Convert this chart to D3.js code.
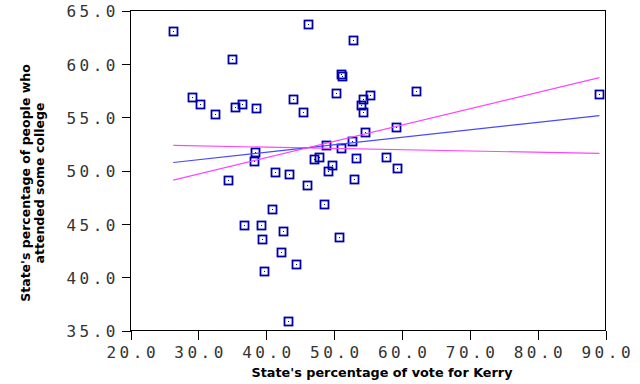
<!DOCTYPE html>
<html><head><meta charset="utf-8">
<script src="https://cdn.jsdelivr.net/npm/d3@7"></script>
<style>
html,body{margin:0;padding:0;background:#fff;}
svg{display:block;}
</style></head>
<body>
<svg id="chart" width="640" height="384"></svg>
<script>
// Data
const kerryVote = [26.3,35.0,29.1,30.3,32.4,35.4,36.5,38.5,44.0,46.2,52.8,51.0,51.2,50.3,45.4,55.3,54.3,53.9,54.3,62.1,54.6,59.1,38.4,38.2,34.4,41.3,43.4,40.9,36.8,39.3,42.5,39.4,48.8,52.6,51.0,47.8,47.1,53.2,57.6,49.7,49.1,59.3,52.9,46.0,48.5,50.7,42.2,44.4,39.7,43.2,89.1];
const someCollege = [63.1,60.5,56.9,56.2,55.3,56.0,56.2,55.9,56.7,63.7,62.2,59.06,58.9,57.3,55.5,57.1,56.7,56.1,55.5,57.5,53.65,54.1,51.7,50.9,49.1,49.9,49.7,46.4,44.9,44.9,44.3,43.6,52.4,52.75,52.1,51.3,51.1,51.2,51.3,50.5,50.0,50.2,49.2,48.6,46.9,43.8,42.4,41.2,40.6,35.85,57.2];
const fitX = [26.3, 89.1];
const fitSteep = [49.1, 58.7];
const fitBlue = [50.75, 55.15];
const fitFlat = [52.35, 51.6];
const xTicks = [20,30,40,50,60,70,80,90];
const yTicks = [35,40,45,50,55,60,65];
const xTitle = "State's percentage of vote for Kerry";
const yTitle = ["State's percentage of people who", "attended some college"];

const svg = d3.select("#chart");
const x = d3.scaleLinear().domain([20,90]).range([130.5,605.5]);
const y = d3.scaleLinear().domain([35,65]).range([330.5,10.5]);
const fmt = d3.format(".1f");
const LS = 3.5;
const tickFont = "'DejaVu Sans Mono', monospace";

// frame
svg.append("rect").attr("x",130.5).attr("y",10.5).attr("width",475).attr("height",320)
  .attr("fill","none").attr("stroke","#000").attr("stroke-width",1);

const xa = svg.append("g").attr("transform","translate(0,330.5)")
  .call(d3.axisBottom(x).tickValues(xTicks).tickFormat(fmt).tickSize(9).tickSizeOuter(0));
xa.select(".domain").remove();
xa.selectAll(".tick line").attr("stroke","#000").attr("stroke-width",1).attr("shape-rendering","crispEdges");
xa.selectAll(".tick text").attr("y",16).attr("dy","0.71em").attr("dx",LS/2)
  .style("font-family",tickFont).style("font-size","16px")
  .style("letter-spacing",LS+"px").attr("fill","#333");

const ya = svg.append("g").attr("transform","translate(130.5,0)")
  .call(d3.axisLeft(y).tickValues(yTicks).tickFormat(fmt).tickSize(9).tickSizeOuter(0));
ya.select(".domain").remove();
ya.selectAll(".tick line").attr("stroke","#000").attr("stroke-width",1).attr("shape-rendering","crispEdges");
ya.selectAll(".tick text").attr("x",-15+LS).attr("dy","0.4em")
  .style("font-family",tickFont).style("font-size","16px")
  .style("letter-spacing",LS+"px").attr("fill","#333");

// points
const pts = svg.append("g");
kerryVote.forEach((v,i)=>{
  const cx = Math.round(x(v)), cy = Math.round(y(someCollege[i]));
  pts.append("rect").attr("x",cx-3.5).attr("y",cy-3.5).attr("width",8).attr("height",8)
    .attr("fill","none").attr("stroke","#0000aa").attr("stroke-width",1.8);
  pts.append("rect").attr("x",cx).attr("y",cy).attr("width",1).attr("height",1).attr("fill","#0000aa");
});

// fit lines
const line = d3.line().x(d=>x(d[0])).y(d=>y(d[1]));
[[fitFlat,"#ff44ff"],[fitBlue,"#4848ff"],[fitSteep,"#ff44ff"]].forEach(([ys,c])=>{
  svg.append("path").attr("d",line(fitX.map((xv,i)=>[xv,ys[i]])))
    .attr("fill","none").attr("stroke",c).attr("stroke-width",1.2);
});

// titles
svg.append("text").attr("x",382).attr("y",377).attr("text-anchor","middle")
  .style("font-family","'DejaVu Sans', sans-serif").style("font-weight","bold").style("font-size","12.8px")
  .text(xTitle);
const yt = svg.append("text").attr("transform","translate(0,183) rotate(-90)")
  .attr("text-anchor","middle")
  .style("font-family","'DejaVu Sans', sans-serif").style("font-weight","bold").style("font-size","12.5px");
yt.append("tspan").attr("x",0).attr("y",30).text(yTitle[0]);
yt.append("tspan").attr("x",0).attr("y",44).text(yTitle[1]);
</script>
</body></html>
